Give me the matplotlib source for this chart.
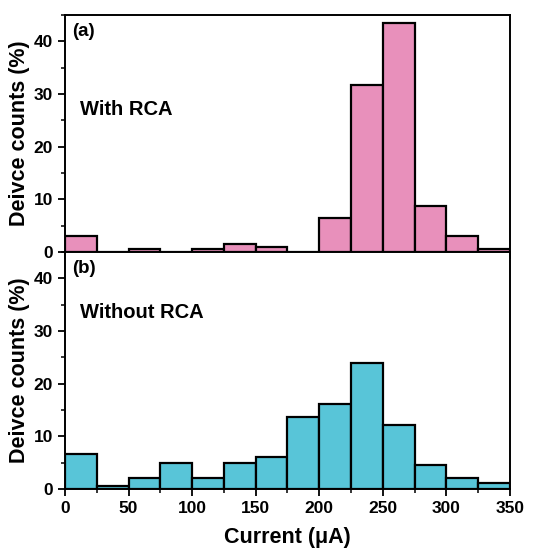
import matplotlib
matplotlib.use("Agg")
import matplotlib.pyplot as plt
from matplotlib.ticker import MultipleLocator

bin_edges = [0, 25, 50, 75, 100, 125, 150, 175, 200, 225, 250, 275, 300, 325, 350]
with_rca = [3.0, 0.0, 0.5, 0.0, 0.5, 1.5, 1.0, 0.0, 6.4, 31.8, 43.4, 8.8, 3.0, 0.5]
without_rca = [6.6, 0.5, 2.0, 5.0, 2.0, 5.0, 6.0, 13.6, 16.1, 24.0, 12.1, 4.5, 2.0, 1.1]
panel_labels = ["(a)", "(b)"]
panel_titles = ["With RCA", "Without RCA"]
xticks = [0, 50, 100, 150, 200, 250, 300, 350]
yticks = [0, 10, 20, 30, 40]

plt.rcParams['font.family'] = ['Liberation Sans', 'DejaVu Sans']
plt.rcParams['font.weight'] = 'bold'

fig = plt.figure(figsize=(5.43, 5.48), dpi=100)
left, right = 0.1197, 0.939
ax_top = fig.add_axes([left, 0.540, right - left, 0.9726 - 0.540])
ax_bot = fig.add_axes([left, 0.1077, right - left, 0.540 - 0.1077], sharex=ax_top)

colors = ["#E890BB", "#58C5D8"]
title_y = [0.60, 0.745]
for ax, vals, col, lab, title, ty in zip([ax_top, ax_bot], [with_rca, without_rca], colors,
                                         panel_labels, panel_titles, title_y):
    lefts = bin_edges[:-1]
    widths = [b - a for a, b in zip(bin_edges[:-1], bin_edges[1:])]
    ax.bar(lefts, vals, width=widths, align='edge', color=col, edgecolor='black', linewidth=1.6)
    ax.set_xlim(0, 350)
    ax.set_ylim(0, 45)
    ax.set_yticks(yticks)
    ax.yaxis.set_minor_locator(MultipleLocator(5))
    ax.xaxis.set_minor_locator(MultipleLocator(25))
    ax.tick_params(axis='both', which='major', direction='out', length=5, width=1.3, labelsize=12.5)
    ax.tick_params(axis='both', which='minor', direction='out', length=3, width=1.1)
    ax.tick_params(top=False, right=False)
    for s in ax.spines.values():
        s.set_linewidth(1.4)
    ax.set_ylabel("Deivce counts (%)", fontsize=15.5, fontweight='bold', labelpad=3)
    ax.text(0.016, 0.965, lab, transform=ax.transAxes, fontsize=13.5, fontweight='bold', va='top', ha='left')
    ax.text(0.034, ty, title, transform=ax.transAxes, fontsize=14.5,
            fontweight='bold', va='center', ha='left')

ax_top.tick_params(axis='x', labelbottom=False)
ax_bot.set_xticks(xticks)
ax_bot.set_xlabel("Current (\u03bcA)", fontsize=15.5, fontweight='bold', labelpad=8)

fig.savefig("out.png", dpi=100)
